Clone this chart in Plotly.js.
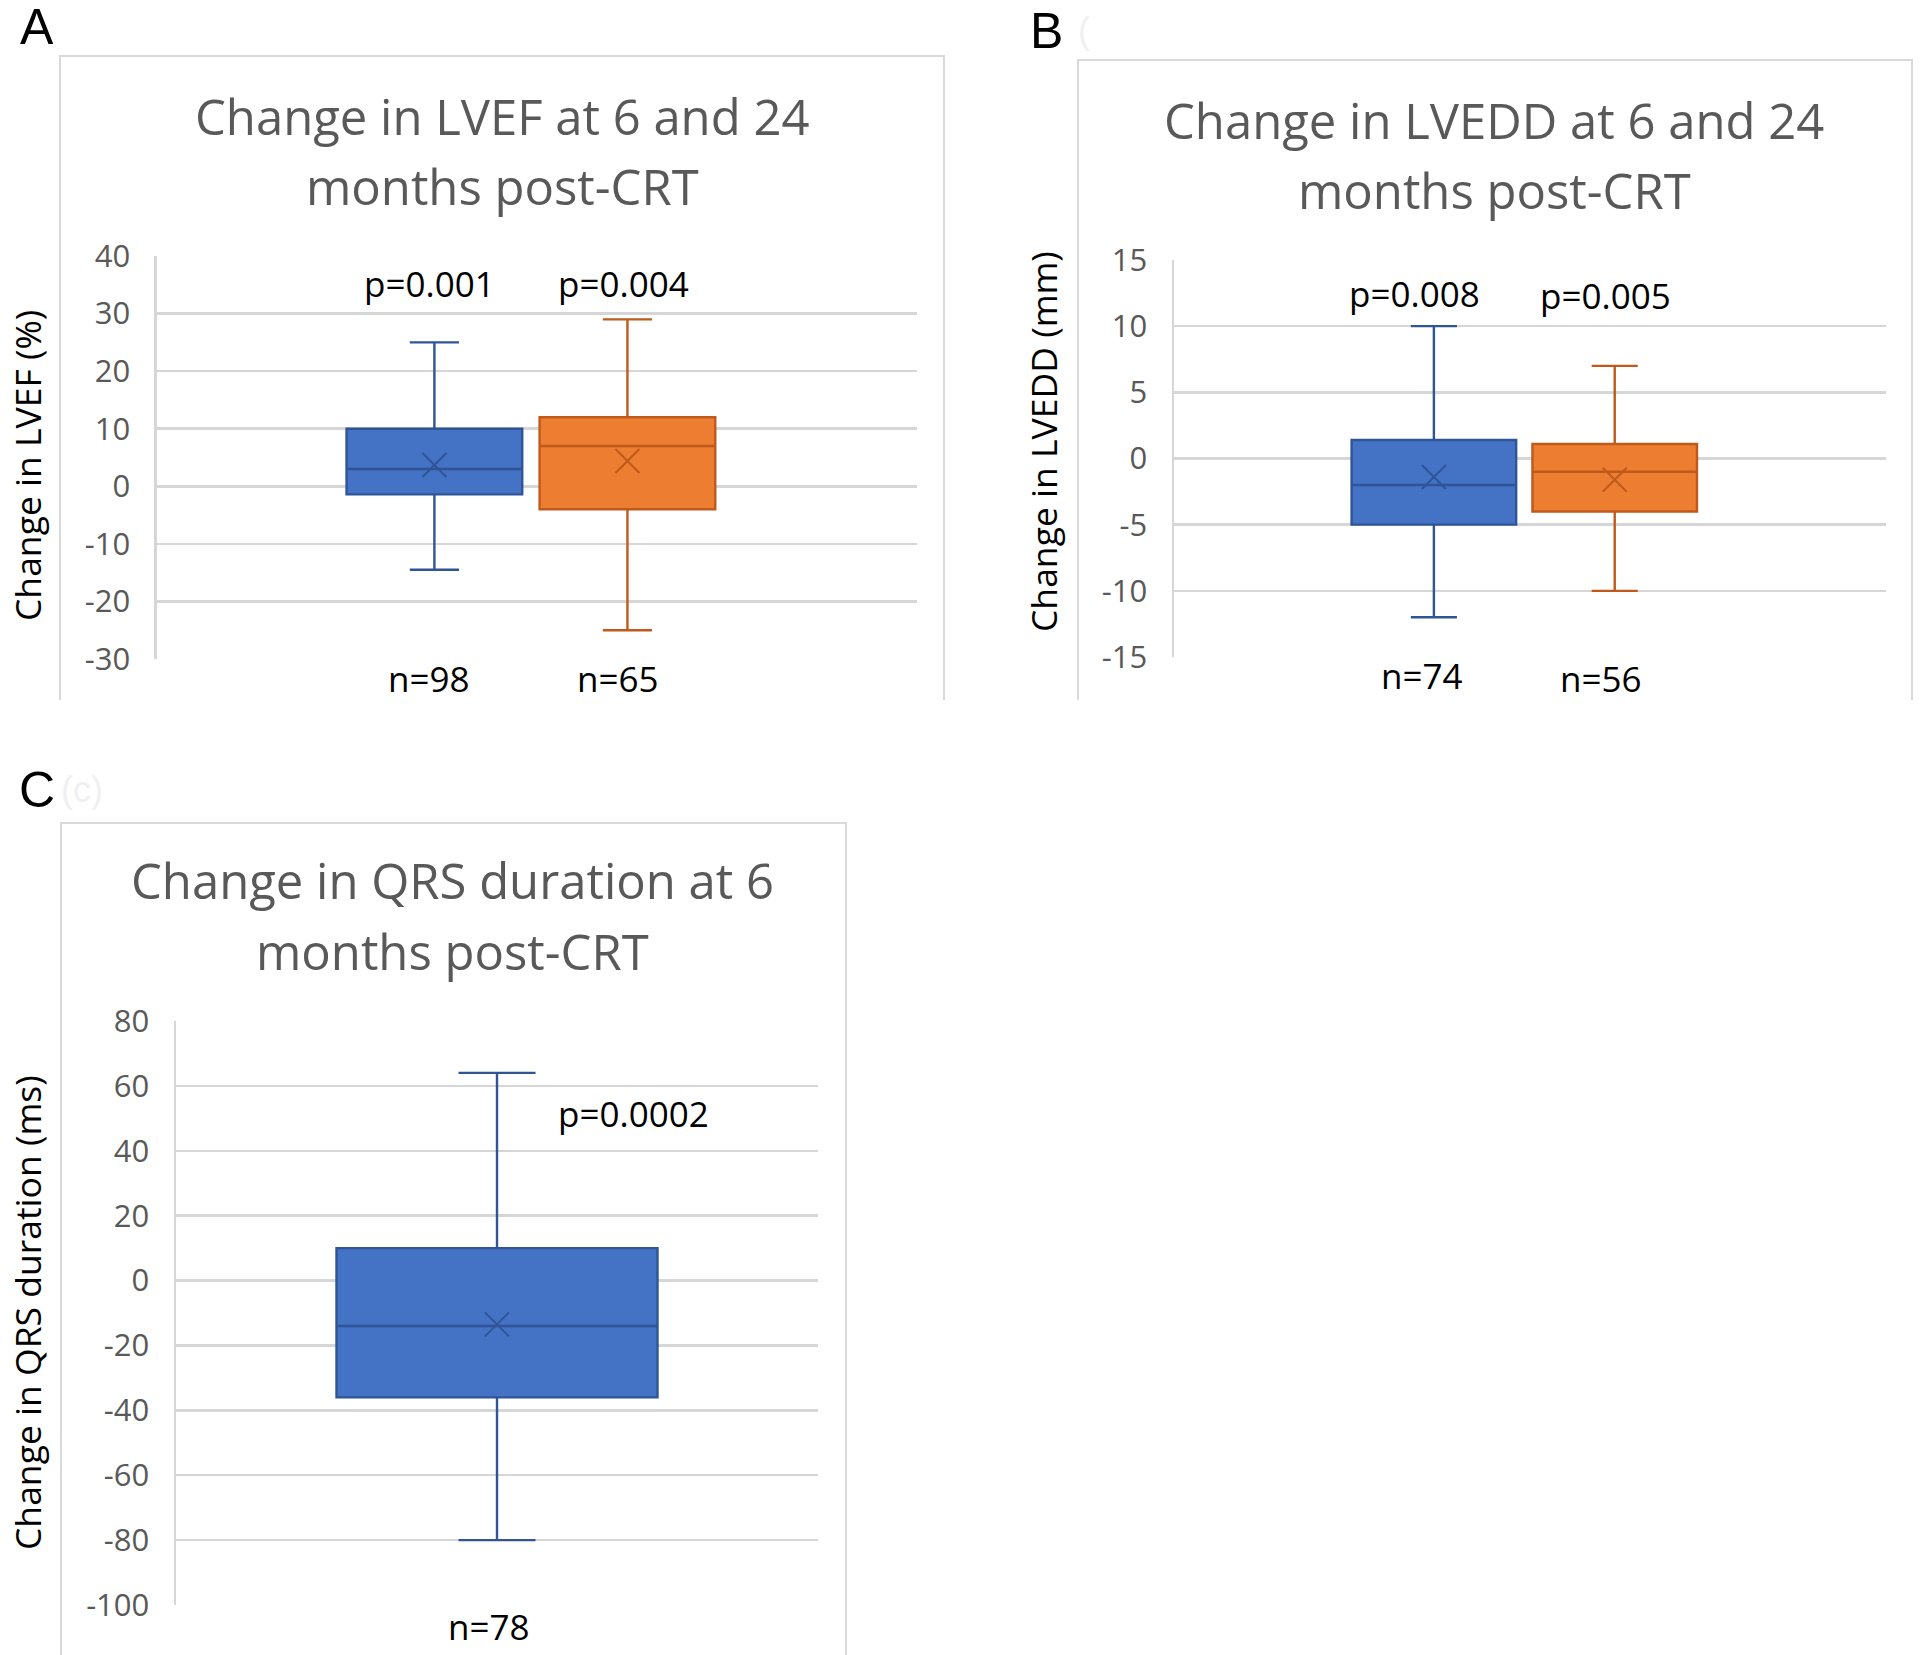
<!DOCTYPE html>
<html>
<head>
<meta charset="utf-8">
<script src="https://cdn.plot.ly/plotly-3.0.1.min.js"></script>
<style>html,body{margin:0;padding:0;background:#fff;}#chart{width:1920px;height:1655px;}</style>
</head>
<body>
<div id="chart"></div>
<script>
// ---------- data ----------
const groups = ['6 months', '24 months'];
const seriesColors = ['#4472C4', '#ED7D31'];
const seriesLines = ['#2F5597', '#C0591C'];

// Panel A: change in LVEF (%)
const lvefQ1 = [-1.4, -4.0];
const lvefMedian = [3.0, 7.0];
const lvefQ3 = [10.0, 12.0];
const lvefLow = [-14.5, -25.0];
const lvefHigh = [25.0, 29.0];
const lvefMean = [3.7, 4.4];
const lvefP = ['p=0.001', 'p=0.004'];
const lvefN = ['n=98', 'n=65'];
const lvefTicks = [-30, -20, -10, 0, 10, 20, 30, 40];

// Panel B: change in LVEDD (mm)
const lveddQ1 = [-5.0, -4.0];
const lveddMedian = [-2.0, -1.0];
const lveddQ3 = [1.4, 1.1];
const lveddLow = [-12.0, -10.0];
const lveddHigh = [10.0, 7.0];
const lveddMean = [-1.4, -1.6];
const lveddP = ['p=0.008', 'p=0.005'];
const lveddN = ['n=74', 'n=56'];
const lveddTicks = [-15, -10, -5, 0, 5, 10, 15];

// Panel C: change in QRS duration (ms)
const qrsGroups = ['6 months'];
const qrsQ1 = [-36];
const qrsMedian = [-14];
const qrsQ3 = [10];
const qrsLow = [-80];
const qrsHigh = [64];
const qrsMean = [-13.5];
const qrsP = ['p=0.0002'];
const qrsN = ['n=78'];
const qrsTicks = [-100, -80, -60, -40, -20, 0, 20, 40, 60, 80];

const titleLines = [
  ['Change in LVEF at 6 and 24', 'months post-CRT'],
  ['Change in LVEDD at 6 and 24', 'months post-CRT'],
  ['Change in QRS duration at 6', 'months post-CRT']
];
const yTitles = ['Change in LVEF (%)', 'Change in LVEDD (mm)', 'Change in QRS duration (ms)'];
const panelLetters = ['A', 'B', 'C'];

// ---------- traces ----------
const FONT = 'Open Sans, Noto Sans, sans-serif';
const traces = [];
function addBoxes(cats, q1, med, q3, lo, hi, mean, xa, ya, width, whisker) {
  cats.forEach((c, i) => {
    traces.push({
      type: 'box', x: [c], q1: [q1[i]], median: [med[i]], q3: [q3[i]],
      lowerfence: [lo[i]], upperfence: [hi[i]],
      boxpoints: false, width: width, whiskerwidth: whisker,
      fillcolor: seriesColors[i], line: {color: seriesLines[i], width: 2.4},
      xaxis: xa, yaxis: ya, showlegend: false, hoverinfo: 'skip'
    });
  });
  traces.push({
    type: 'scatter', mode: 'markers', x: cats, y: mean,
    marker: {symbol: 'x-thin-open', size: 24, color: seriesLines.slice(0, cats.length),
             line: {width: 2, color: seriesLines.slice(0, cats.length)}},
    xaxis: xa, yaxis: ya, showlegend: false, hoverinfo: 'skip'
  });
}
addBoxes(groups, lvefQ1, lvefMedian, lvefQ3, lvefLow, lvefHigh, lvefMean, 'x', 'y', 0.91, 0.28);
addBoxes(groups, lveddQ1, lveddMedian, lveddQ3, lveddLow, lveddHigh, lveddMean, 'x2', 'y2', 0.91, 0.28);
addBoxes(qrsGroups, qrsQ1, qrsMedian, qrsQ3, qrsLow, qrsHigh, qrsMean, 'x3', 'y3', 0.5, 0.24);

// ---------- layout ----------
function xAx(domain, range, anchor, cats) {
  return {domain: domain, range: range, anchor: anchor, type: 'category',
          categoryorder: 'array', categoryarray: cats,
          showticklabels: false, showgrid: false, zeroline: false, showline: false, ticks: ''};
}
function yAx(domain, ticks, anchor) {
  return {domain: domain, range: [ticks[0], ticks[ticks.length - 1]], anchor: anchor,
          tickmode: 'array', tickvals: ticks, ticktext: ticks.map(String),
          showgrid: true, gridcolor: '#d6d6d6', gridwidth: 2.5, zeroline: false,
          showline: true, linecolor: '#d6d6d6', linewidth: 2.5, ticks: '',
          ticklabelstandoff: 18,
          tickfont: {family: FONT, size: 31, color: '#595959'}};
}

const annotations = [];
// title line centres (paper coords): [x, y line 1, y line 2]
const titlePos = [[0.26146, 0.93021, 0.88761], [0.77813, 0.92779, 0.88520], [0.23542, 0.46798, 0.42538]];
titleLines.forEach((lines, i) => lines.forEach((t, k) => annotations.push({
  text: t, xref: 'paper', yref: 'paper', x: titlePos[i][0], y: titlePos[i][k + 1],
  xanchor: 'center', yanchor: 'middle', showarrow: false,
  font: {family: FONT, size: 49, color: '#595959'}
})));
const yTitlePos = [[0.01406, 0.71903], [0.54323, 0.73293], [0.01406, 0.20725]];
yTitles.forEach((t, i) => annotations.push({
  text: t, xref: 'paper', yref: 'paper', x: yTitlePos[i][0], y: yTitlePos[i][1],
  xanchor: 'center', yanchor: 'middle', textangle: -90, showarrow: false,
  font: {family: FONT, size: 35.5, color: '#000000'}
}));
const letterPos = [[0.01927, 0.98369], [0.54531, 0.98127], [0.01927, 0.52266]];
panelLetters.forEach((t, i) => annotations.push({
  text: t, xref: 'paper', yref: 'paper', x: letterPos[i][0], y: letterPos[i][1],
  xanchor: 'center', yanchor: 'middle', showarrow: false,
  font: {family: 'Liberation Sans, Arial, sans-serif', size: 50, color: '#000000'}
}));
// faint residue marks next to panel letters
annotations.push({text: '(c)', xref: 'paper', yref: 'paper', x: 0.0427, y: 0.52266,
  xanchor: 'center', yanchor: 'middle', showarrow: false,
  font: {family: 'Liberation Sans, Arial, sans-serif', size: 36, color: '#f0f0f0'}});
annotations.push({text: '(', xref: 'paper', yref: 'paper', x: 0.5646, y: 0.98127,
  xanchor: 'center', yanchor: 'middle', showarrow: false,
  font: {family: 'Liberation Sans, Arial, sans-serif', size: 36, color: '#f0f0f0'}});

const labelFont = {family: FONT, size: 35, color: '#000000'};
const pShiftA = [-5, -4], pShiftB = [-19, -9];
groups.forEach((g, i) => {
  annotations.push({text: lvefP[i], xref: 'x', yref: 'y', x: g, y: 35.2, xshift: pShiftA[i],
    showarrow: false, xanchor: 'center', yanchor: 'middle', font: labelFont});
  annotations.push({text: lvefN[i], xref: 'x', yref: 'paper', x: g, y: 0.5903, xshift: [-5, -9][i],
    showarrow: false, xanchor: 'center', yanchor: 'middle', font: labelFont});
  annotations.push({text: lveddP[i], xref: 'x2', yref: 'y2', x: g, y: [12.5, 12.3][i], xshift: pShiftB[i],
    showarrow: false, xanchor: 'center', yanchor: 'middle', font: labelFont});
  annotations.push({text: lveddN[i], xref: 'x2', yref: 'paper', x: g, y: [0.5921, 0.5903][i], xshift: [-12, -14][i],
    showarrow: false, xanchor: 'center', yanchor: 'middle', font: labelFont});
});
annotations.push({text: qrsP[0], xref: 'x3', yref: 'y3', x: 0.212, y: 51.5,
  showarrow: false, xanchor: 'center', yanchor: 'middle', font: labelFont});
annotations.push({text: qrsN[0], xref: 'x3', yref: 'paper', x: qrsGroups[0], y: 0.0175, xshift: -8,
  showarrow: false, xanchor: 'center', yanchor: 'middle', font: labelFont});

function frame(x0, x1, yt, yb) {
  return {type: 'path', xref: 'paper', yref: 'paper', layer: 'below',
          path: `M ${x0},${yb} L ${x0},${yt} L ${x1},${yt} L ${x1},${yb}`,
          line: {color: '#d9d9d9', width: 2}};
}

const layout = {
  width: 1920, height: 1655,
  margin: {l: 0, r: 0, t: 0, b: 0},
  paper_bgcolor: '#ffffff', plot_bgcolor: 'rgba(0,0,0,0)',
  showlegend: false,
  font: {family: FONT},
  xaxis: xAx([0.08177, 0.47760], [-1.437, 2.5], 'y', groups),
  yaxis: yAx([0.60181, 0.84532], lvefTicks, 'x'),
  xaxis2: xAx([0.61146, 0.98229], [-1.437, 2.5], 'y2', groups),
  yaxis2: yAx([0.60302, 0.84290], lveddTicks, 'x2'),
  xaxis3: xAx([0.09167, 0.42604], [-0.5, 0.5], 'y3', qrsGroups),
  yaxis3: yAx([0.03021, 0.38308], qrsTicks, 'x3'),
  annotations: annotations,
  shapes: [
    frame(0.03125, 0.49167, 0.96616, 0.57704),
    frame(0.56146, 0.99583, 0.96375, 0.57704),
    frame(0.03177, 0.44063, 0.50272, -0.01)
  ]
};

Plotly.newPlot('chart', traces, layout, {staticPlot: true, displayModeBar: false});
</script>
</body>
</html>
